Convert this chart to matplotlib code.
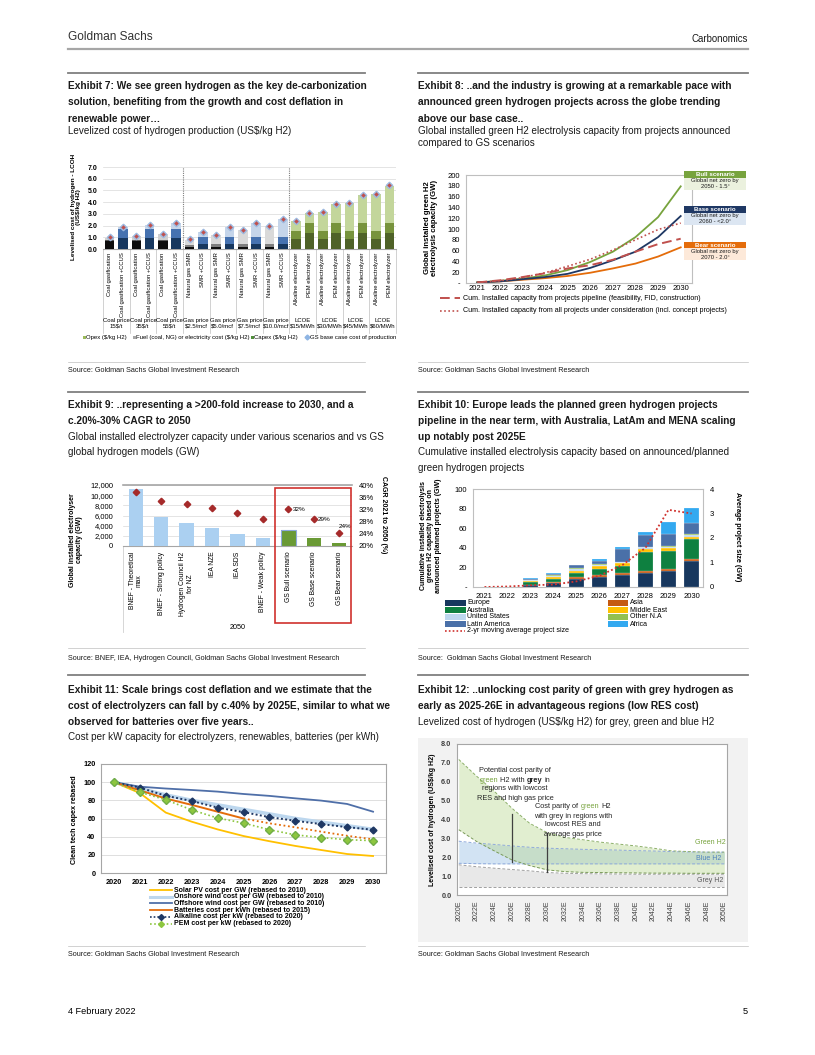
import matplotlib
matplotlib.use('Agg')
import matplotlib.pyplot as plt
from matplotlib.lines import Line2D
from matplotlib.patches import Rectangle
import matplotlib.transforms as mtransforms
import numpy as np

# ---------------- DATA ----------------
# Exhibit 7
lcoh_tech = ['Coal gasification', 'Coal gasification +CCUS'] * 3 + \
            ['Natural gas SMR', 'SMR +CCUS'] * 4 + \
            ['Alkaline electrolyzer', 'PEM electrolyzer'] * 4
lcoh_groups = ['Coal price\n15$/t', 'Coal price\n35$/t', 'Coal price\n55$/t',
               'Gas price\n$2.5/mcf', 'Gas price\n$5.0/mcf', 'Gas price\n$7.5/mcf', 'Gas price\n$10.0/mcf',
               'LCOE\n$15/MWh', 'LCOE\n$30/MWh', 'LCOE\n$45/MWh', 'LCOE\n$60/MWh']
lcoh_capex = [0.70, 0.90, 0.70, 0.90, 0.72, 0.95, 0.20, 0.40, 0.20, 0.40, 0.20, 0.40, 0.20, 0.40,
              0.85, 1.35, 0.85, 1.35, 0.85, 1.35, 0.85, 1.35]
lcoh_opex = [0.05, 0.85, 0.05, 0.85, 0.05, 0.80, 0.15, 0.65, 0.20, 0.65, 0.20, 0.65, 0.20, 0.65,
             0.70, 0.85, 0.70, 0.85, 0.70, 0.85, 0.70, 0.85]
lcoh_fuel = [0.20, 0.15, 0.35, 0.30, 0.53, 0.50, 0.45, 0.40, 0.80, 0.80, 1.20, 1.15, 1.60, 1.55,
             0.80, 0.90, 1.60, 1.65, 2.40, 2.40, 3.15, 3.20]
lcoh_base = [1.00, 1.90, 1.10, 2.05, 1.30, 2.25, 0.85, 1.45, 1.20, 1.85, 1.60, 2.20, 2.00, 2.60,
             2.35, 3.10, 3.15, 3.85, 3.90, 4.65, 4.70, 5.45]

# Exhibit 8
years8 = ['2021', '2022', '2023', '2024', '2025', '2026', '2027', '2028', '2029', '2030']
bull8 = [1, 4, 8, 14, 24, 39, 58, 85, 122, 179]
base8 = [1, 3, 7, 11, 17, 28, 42, 58, 85, 124]
bear8 = [1, 3, 6, 9, 13, 19, 27, 36, 49, 66]
pipeline8 = [1, 5, 11, 18, 27, 33, 43, 58, 72, 82]
allproj8 = [1, 4, 10, 19, 31, 44, 61, 80, 99, 111]

# Exhibit 9
cats9 = ['BNEF - Theoretical\nmax', 'BNEF - Strong policy', 'Hydrogen Council H2\nfor NZ', 'IEA NZE',
         'IEA SDS', 'BNEF - Weak policy', 'GS Bull scenario', 'GS Base scenario', 'GS Bear scenario']
cap2050 = [11300, 5800, 4500, 3500, 2400, 1500, 3200, 1500, 500]
cagr9 = [37.8, 34.7, 33.7, 32.6, 30.7, 28.9, 32.0, 28.8, 24.2]

# Exhibit 10
years10 = ['2021', '2022', '2023', '2024', '2025', '2026', '2027', '2028', '2029', '2030']
regions10 = ['Europe', 'Asia', 'Australia', 'Middle East', 'United States', 'Other N.A', 'Latin America', 'Africa']
europe10 = [0.0, 0.2, 2.0, 4.0, 8.0, 10.0, 12.5, 14.5, 16.0, 27.0]
asia10 = [0.0, 0.0, 0.5, 1.0, 2.0, 2.0, 1.5, 1.5, 2.0, 1.5]
australia10 = [0.0, 0.1, 2.5, 3.5, 4.0, 6.5, 7.0, 20.0, 19.0, 20.0]
me10 = [0.0, 0.1, 1.0, 1.5, 2.5, 2.5, 3.0, 3.0, 2.5, 3.0]
us10 = [0.0, 0.1, 1.0, 1.5, 2.0, 1.5, 1.5, 1.5, 1.5, 2.0]
othna10 = [0.0, 0.0, 0.2, 0.3, 0.5, 0.5, 0.5, 0.5, 0.5, 0.5]
latam10 = [0.0, 0.0, 1.0, 1.5, 3.0, 4.0, 12.5, 12.0, 12.5, 11.5]
africa10 = [0.0, 0.0, 0.8, 0.5, 0.8, 2.0, 2.0, 3.0, 12.5, 15.5]
projsize10 = [0.0, 0.02, 0.07, 0.10, 0.23, 0.46, 0.90, 1.60, 3.15, 3.00]

# Exhibit 11
years11 = ['2020', '2021', '2022', '2023', '2024', '2025', '2026', '2027', '2028', '2029', '2030']
solar11 = [100, 88, 66.5, 56.5, 48, 40.7, 35, 29.8, 25.3, 20.9, 18.7]
onshore11 = [100, 93, 86, 80, 75, 70, 65, 60, 56, 52, 48]
offshore11 = [100, 95, 93, 91.4, 89.6, 87, 84.9, 82.2, 79.7, 76, 67.5]
batteries11 = [100, 91, 82, 75, 67.5, 60, 54.7, 50.3, 45.5, 41, 37]
alkaline11 = [100, 94, 85, 79.3, 72, 67, 61.5, 57.5, 53.8, 50.5, 47.6]
pem11 = [100, 89, 80.6, 69.5, 60.5, 55, 47.6, 42, 39, 36.7, 35.6]

# Exhibit 12
years12 = [2020, 2022, 2024, 2026, 2028, 2030, 2032, 2034, 2036, 2038, 2040, 2042, 2044, 2046, 2048, 2050]
green_hi = [7.18, 6.30, 5.50, 4.60, 3.80, 3.30, 3.05, 2.93, 2.80, 2.70, 2.60, 2.48, 2.34, 2.30, 2.27, 2.27]
green_lo = [3.46, 2.84, 2.34, 1.86, 1.56, 1.33, 1.24, 1.20, 1.19, 1.18, 1.17, 1.16, 1.16, 1.15, 1.15, 1.15]
blue_hi = [2.85, 2.75, 2.68, 2.60, 2.53, 2.48, 2.45, 2.42, 2.40, 2.38, 2.35, 2.33, 2.30, 2.28, 2.27, 2.27]
blue_lo = [1.68, 1.66, 1.65, 1.65, 1.65, 1.65, 1.65, 1.65, 1.65, 1.65, 1.65, 1.65, 1.65, 1.65, 1.65, 1.65]
grey_hi = [1.60, 1.50, 1.42, 1.35, 1.28, 1.19, 1.15, 1.13, 1.12, 1.11, 1.10, 1.10, 1.10, 1.10, 1.10, 1.10]
grey_lo = [0.44] * 16

# ---------------- HELPERS ----------------
W, H = 815, 1055
NARROW = ['Liberation Sans', 'DejaVu Sans']
SANS = ['Liberation Sans', 'DejaVu Sans']
plt.rcParams['font.family'] = SANS

fig = plt.figure(figsize=(W / 100, H / 100), dpi=100)
fig.patch.set_facecolor('white')
renderer = fig.canvas.get_renderer()


def fx(x):
    return x / W


def fy(y):
    return 1 - y / H


def add_ax(x0, y0, x1, y1):
    return fig.add_axes([fx(x0), fy(y1), (x1 - x0) / W, (y1 - y0) / H])


def txt(x, y, s, size=6, **kw):
    kw.setdefault('va', 'center')
    kw.setdefault('ha', 'left')
    return fig.text(fx(x), fy(y), s, fontsize=size, **kw)


def rich(xc, y, parts, size):
    ts = [fig.text(0, fy(y), s, fontsize=size, va='center', ha='left', **kw) for s, kw in parts]
    a = fig.text(0, 0, 'a a', fontsize=size)
    b = fig.text(0, 0, 'aa', fontsize=size)
    gap = a.get_window_extent(renderer).width - b.get_window_extent(renderer).width
    a.remove(); b.remove()
    ws = [t.get_window_extent(renderer).width for t in ts]
    x = xc - (sum(ws) + gap * (len(ws) - 1)) / 2
    for t, w in zip(ts, ws):
        t.set_x(fx(x))
        x += w + gap


def hline(x0, x1, y, lw=1.0, color='#808080', **kw):
    fig.add_artist(Line2D([fx(x0), fx(x1)], [fy(y), fy(y)], lw=lw, color=color,
                          transform=fig.transFigure, **kw))


def rect(x0, y0, x1, y1, fc='none', ec='none', lw=0.0, z=0):
    fig.add_artist(Rectangle((fx(x0), fy(y1)), (x1 - x0) / W, (y1 - y0) / H, transform=fig.transFigure,
                             facecolor=fc, edgecolor=ec, lw=lw, zorder=z))


def frame(ax, color='#BFBFBF', lw=0.8):
    for s in ax.spines.values():
        s.set_color(color)
        s.set_linewidth(lw)


TITLE = dict(size=7.3, family=NARROW, weight='bold', color='#1a1a1a')
SUB = dict(size=7.15, family=NARROW, color='#1a1a1a')
SRC = dict(size=5.2, family=NARROW, color='#1a1a1a')

# ---------------- PAGE ----------------
txt(68, 37, 'Goldman Sachs', 8.6, family=NARROW, color='#333333')
txt(748, 39, 'Carbonomics', 6.9, family=NARROW, ha='right', color='#1a1a1a')
hline(68, 748, 49, lw=1.6, color='#A6A6A6')
txt(68, 1012, '4 February 2022', 6.6, family=NARROW)
txt(748, 1012, '5', 6.6, family=NARROW, ha='right')

for (x0, x1) in [(68, 365), (418, 748)]:
    hline(x0, x1, 73, lw=1.3, color='#7F7F7F')
    hline(x0, x1, 392, lw=1.3, color='#7F7F7F')
    hline(x0, x1, 675, lw=1.3, color='#7F7F7F')
    hline(x0, x1, 362, lw=0.5, color='#BFBFBF')
    hline(x0, x1, 648, lw=0.5, color='#BFBFBF')
    hline(x0, x1, 946, lw=0.5, color='#BFBFBF')

# titles
txt(68, 86, 'Exhibit 7: We see green hydrogen as the key de-carbonization', **TITLE)
txt(68, 102, 'solution, benefiting from the growth and cost deflation in', **TITLE)
txt(68, 119, 'renewable power\u2026', **TITLE)
txt(68, 131, 'Levelized cost of hydrogen production (US$/kg H2)', **SUB)
txt(418, 86, 'Exhibit 8: ..and the industry is growing at a remarkable pace with', **TITLE)
txt(418, 102, 'announced green hydrogen projects across the globe trending', **TITLE)
txt(418, 119, 'above our base case..', **TITLE)
txt(418, 131, 'Global installed green H2 electrolysis capacity from projects announced', **SUB)
txt(418, 143, 'compared to GS scenarios', **SUB)
txt(68, 371, 'Source: Goldman Sachs Global Investment Research', **SRC)
txt(418, 371, 'Source: Goldman Sachs Global Investment Research', **SRC)

txt(68, 405, 'Exhibit 9: ..representing a >200-fold increase to 2030, and a', **TITLE)
txt(68, 421, 'c.20%-30% CAGR to 2050', **TITLE)
txt(68, 437, 'Global installed electrolyzer capacity under various scenarios and vs GS', **SUB)
txt(68, 452, 'global hydrogen models (GW)', **SUB)
txt(418, 405, 'Exhibit 10: Europe leads the planned green hydrogen projects', **TITLE)
txt(418, 421, 'pipeline in the near term, with Australia, LatAm and MENA scaling', **TITLE)
txt(418, 437, 'up notably post 2025E', **TITLE)
txt(418, 452, 'Cumulative installed electrolysis capacity based on announced/planned', **SUB)
txt(418, 468, 'green hydrogen projects', **SUB)
txt(68, 658, 'Source: BNEF, IEA, Hydrogen Council, Goldman Sachs Global Investment Research', **SRC)
txt(418, 658, 'Source:  Goldman Sachs Global Investment Research', **SRC)

txt(68, 690, 'Exhibit 11: Scale brings cost deflation and we estimate that the', **TITLE)
txt(68, 706, 'cost of electrolyzers can fall by c.40% by 2025E, similar to what we', **TITLE)
txt(68, 722, 'observed for batteries over five years..', **TITLE)
txt(68, 737, 'Cost per kW capacity for electrolyzers, renewables, batteries (per kWh)', **SUB)
txt(418, 690, 'Exhibit 12: ..unlocking cost parity of green with grey hydrogen as', **TITLE)
txt(418, 706, 'early as 2025-26E in advantageous regions (low RES cost)', **TITLE)
txt(418, 722, 'Levelized cost of hydrogen (US$/kg H2) for grey, green and blue H2', **SUB)
txt(68, 955, 'Source: Goldman Sachs Global Investment Research', **SRC)
txt(418, 955, 'Source: Goldman Sachs Global Investment Research', **SRC)

# ---------------- EXHIBIT 7 ----------------
ax7 = add_ax(103, 167, 396, 249)
n7 = len(lcoh_tech)
x7 = np.arange(n7)
cb, cm, ct = [], [], []
for i in range(n7):
    if i < 6:
        if i % 2 == 0:
            cb.append('#0D0D0D'); cm.append('#595959'); ct.append('#D0D0D0')
        else:
            cb.append('#17375E'); cm.append('#4672B0'); ct.append('#C5D5EA')
    elif i < 14:
        if i % 2 == 0:
            cb.append('#0D0D0D'); cm.append('#7F7F7F'); ct.append('#D9D9D9')
        else:
            cb.append('#17375E'); cm.append('#4672B0'); ct.append('#C5D5EA')
    else:
        cb.append('#4F6228'); cm.append('#77933C'); ct.append('#C3D69B')
capex = np.array(lcoh_capex)
opex = np.array(lcoh_opex)
ax7.bar(x7, capex, width=0.72, color=cb, zorder=3)
ax7.bar(x7, opex, width=0.72, bottom=capex, color=cm, zorder=3)
ax7.bar(x7, lcoh_fuel, width=0.72, bottom=capex + opex, color=ct, zorder=3)
ax7.plot(x7, lcoh_base, 'D', ms=3.3, mfc='#C0504D', mec='#9DB9E0', mew=1.0, zorder=5, ls='none')
ax7.set_xlim(-0.5, n7 - 0.5)
ax7.set_ylim(0, 7)
ax7.set_yticks(np.arange(0, 7.01, 1.0))
ax7.set_yticklabels(['%.1f' % v for v in np.arange(0, 7.01, 1.0)], fontsize=5, weight='bold')
ax7.tick_params(axis='y', length=0, pad=4)
ax7.set_xticks([])
ax7.grid(axis='y', color='#D9D9D9', lw=0.5)
ax7.set_axisbelow(True)
for s in ['top', 'right', 'left']:
    ax7.spines[s].set_visible(False)
ax7.spines['bottom'].set_color('#A6A6A6')
ax7.axvline(5.5, color='#7F7F7F', ls=(0, (1, 1)), lw=0.8, zorder=4)
ax7.axvline(13.5, color='#7F7F7F', ls=(0, (1, 1)), lw=0.8, zorder=4)
tr7 = mtransforms.blended_transform_factory(ax7.transData, ax7.transAxes)
for i, lab in enumerate(lcoh_tech):
    ax7.text(i, -0.04, lab, transform=tr7, rotation=90, ha='center', va='top', fontsize=4.2, clip_on=False)
for g, lab in enumerate(lcoh_groups):
    ax7.text(2 * g + 0.5, -0.91, lab, transform=tr7, ha='center', va='center', fontsize=4.3,
             linespacing=1.1, clip_on=False)
for g in range(len(lcoh_groups) + 1):
    ax7.plot([2 * g - 0.5, 2 * g - 0.5], [0, -1.02], transform=tr7, color='#BFBFBF', lw=0.5, clip_on=False)
txt(76, 207, 'Levelised cost of hydrogen - LCOH\n(US$/kg H2)', 4.6, rotation=90, ha='center', weight='bold',
    linespacing=1.0)
leg7 = [('Opex ($/kg H2)', '#9BBB59', 83), ('Fuel (coal, NG) or electricity cost ($/kg H2)', '#A6A6A6', 133),
        ('Capex ($/kg H2)', '#4F8F3A', 251)]
for lab, c, xx in leg7:
    rect(xx, 336, xx + 3, 339, fc=c)
    txt(xx + 3.5, 337.5, lab, 4.3)
fig.add_artist(Line2D([fx(307)], [fy(337.5)], marker='D', ms=2.5, mfc='#8EB4E3', mec='#8EB4E3',
                      transform=fig.transFigure, ls='none'))
txt(310, 337.5, 'GS base case cost of production', 4.3)

# ---------------- EXHIBIT 8 ----------------
ax8 = add_ax(466, 175, 692, 283)
x8 = np.arange(len(years8))
ax8.plot(x8, bear8, color='#E46C0A', lw=1.3)
ax8.plot(x8, bull8, color='#77A33D', lw=1.3)
ax8.plot(x8, base8, color='#1F3864', lw=1.3)
ax8.plot(x8, pipeline8, color='#C0504D', lw=1.4, ls=(0, (5, 2.5)))
ax8.plot(x8, allproj8, color='#C0504D', lw=1.2, ls=(0, (1, 1.5)))
ax8.set_xlim(-0.5, len(years8) - 0.5)
ax8.set_ylim(0, 200)
ax8.set_xticks(x8)
ax8.set_xticklabels(years8, fontsize=5.5)
ax8.set_yticks(np.arange(0, 201, 20))
ax8.set_yticklabels(['-'] + [str(v) for v in range(20, 201, 20)], fontsize=5.5)
ax8.tick_params(axis='y', length=0, pad=4)
ax8.tick_params(axis='x', length=0, pad=1.5)
frame(ax8)
txt(431, 228, 'Global installed green H2\nelectrolysis capacity (GW)', 5.6, rotation=90, ha='center',
    weight='bold', linespacing=1.1)
boxes8 = [(171, '#77A33D', '#EBF1DE', 'Bull scenario', 'Global net zero by\n2050 - 1.5\u00b0'),
          (206, '#1F3864', '#DCE6F2', 'Base scenario', 'Global net zero by\n2060 - <2.0\u00b0'),
          (242, '#E46C0A', '#FDE9D9', 'Bear scenario', 'Global net zero by\n2070 - 2.0\u00b0')]
for y0, hc, bc, head, body in boxes8:
    rect(684, y0, 746, y0 + 6.5, fc=hc, z=5)
    rect(684, y0 + 6.5, 746, y0 + 18.5, fc=bc, z=5)
    txt(715, y0 + 3.3, head, 4.4, ha='center', color='white', weight='bold', zorder=6)
    txt(715, y0 + 12.5, body, 4.2, ha='center', color='#1a1a1a', linespacing=1.05, zorder=6)
hline(440, 460, 298, lw=1.4, color='#C0504D', ls=(0, (5, 2.5)))
txt(463, 298, 'Cum. Installed capacity from projects pipeline (feasibility, FID, construction)', 5.1)
hline(440, 460, 310.5, lw=1.2, color='#C0504D', ls=(0, (1, 1.5)))
txt(463, 310.5, 'Cum. Installed capacity from all projects under consideration (incl. concept projects)', 5.1)

# ---------------- EXHIBIT 9 ----------------
ax9 = add_ax(123, 485, 352, 546)
x9 = np.arange(len(cats9))
col9 = ['#ABD0F1'] * 6 + ['#6A9A35'] * 3
ax9.bar(x9, cap2050, width=0.56, color=col9, zorder=3)
ax9.bar([6], [cap2050[6]], width=0.56, color='none', edgecolor='#8EA9DB', lw=0.8, zorder=4)
ax9.set_xlim(-0.5, len(cats9) - 0.5)
ax9.set_ylim(0, 12000)
ax9.set_yticks(np.arange(0, 12001, 2000))
ax9.set_yticklabels(['0'] + ['{:,}'.format(v) for v in range(2000, 12001, 2000)], fontsize=5.5)
ax9.tick_params(axis='y', length=0, pad=7)
ax9.set_xticks([])
ax9.grid(axis='y', color='#D9D9D9', lw=0.5)
ax9.set_axisbelow(True)
ax9.spines['top'].set_color('#A6A6A6')
ax9.spines['top'].set_linewidth(1.2)
ax9.spines['bottom'].set_color('#A6A6A6')
ax9.spines['left'].set_visible(False)
ax9.spines['right'].set_visible(False)
ax9r = ax9.twinx()
ax9r.plot(x9, cagr9, 'D', color='#A52A2A', ms=3.3, ls='none', zorder=5)
ax9r.set_ylim(20, 40)
ax9r.set_yticks(np.arange(20, 41, 4))
ax9r.set_yticklabels(['%d%%' % v for v in range(20, 41, 4)], fontsize=5.5)
ax9r.tick_params(length=0, pad=5)
for s in ax9r.spines.values():
    s.set_visible(False)
ax9r.text(6.17, cagr9[6], '%d%%' % round(cagr9[6]), fontsize=4.6, va='center', ha='left')
ax9r.text(7.17, cagr9[7], '%d%%' % round(cagr9[7]), fontsize=4.6, va='center', ha='left')
ax9r.text(8.24, 26.3, '%d%%' % round(cagr9[8]), fontsize=4.6, va='center', ha='center')
tr9 = mtransforms.blended_transform_factory(ax9.transData, ax9.transAxes)
for i, lab in enumerate(cats9):
    ax9.text(i, -0.09, lab, transform=tr9, rotation=90, ha='center', va='top', fontsize=4.9,
             linespacing=1.05, clip_on=False)
ax9.plot([-0.5, -0.5], [0, -1.41], transform=tr9, color='#D0D0D0', lw=0.6, clip_on=False)
ax9.text(4, -1.34, '2050', transform=tr9, ha='center', va='center', fontsize=5.2, clip_on=False)
rect(275, 488, 351, 623, ec='#D0312D', lw=1.2, z=6)
txt(76, 540, 'Global installed electrolyser\ncapacity (GW)', 5.0, rotation=90, ha='center', weight='bold',
    linespacing=1.1)
txt(383, 515, 'CAGR 2021 to 2050 (%)', 5.0, rotation=270, ha='center', weight='bold')

# ---------------- EXHIBIT 10 ----------------
ax10 = add_ax(473, 489, 703, 587)
x10 = np.arange(len(years10))
stack10 = [europe10, asia10, australia10, me10, us10, othna10, latam10, africa10]
col10 = ['#17375E', '#C55A11', '#0E8040', '#FFC000', '#BDD7EE', '#92C050', '#4A70A8', '#33A9F0']
bottom = np.zeros(len(years10))
for vals, c in zip(stack10, col10):
    ax10.bar(x10, vals, width=0.68, bottom=bottom, color=c, zorder=3, edgecolor='white', lw=0.15)
    bottom = bottom + np.array(vals)
ax10.set_xlim(-0.5, len(years10) - 0.5)
ax10.set_ylim(0, 100)
ax10.set_xticks(x10)
ax10.set_xticklabels(years10, fontsize=5.5)
ax10.set_yticks(np.arange(0, 101, 20))
ax10.set_yticklabels(['-', '20', '40', '60', '80', '100'], fontsize=5.5)
ax10.tick_params(length=0, pad=4)
frame(ax10)
ax10r = ax10.twinx()
ax10r.plot(x10, projsize10, color='#D0312D', lw=1.3, ls=(0, (1, 1.3)), zorder=6)
ax10r.set_ylim(0, 4)
ax10r.set_yticks(range(0, 5))
ax10r.set_yticklabels([str(v) for v in range(0, 5)], fontsize=5.5)
ax10r.tick_params(length=0, pad=5)
for s in ax10r.spines.values():
    s.set_visible(False)
leg10_left = [0, 2, 4, 6]
leg10_right = [1, 3, 5, 7]
rows10 = [603, 610, 617, 624]
for r, k in zip(rows10, leg10_left):
    rect(445, r - 2.7, 466, r + 2.7, fc=col10[k])
    txt(467, r, regions10[k], 5.0)
for r, k in zip(rows10, leg10_right):
    rect(608, r - 2.7, 628, r + 2.7, fc=col10[k])
    txt(630, r, regions10[k], 5.0)
hline(445, 465, 631, lw=1.2, color='#D0312D', ls=(0, (1, 1.3)))
txt(467, 631, '2-yr moving average project size', 5.0)
txt(431, 536, 'Cumulative installed electrolysis\ngreen H2 capacity based on\nannounced planned projects (GW)', 5.0,
    rotation=90, ha='center', weight='bold', linespacing=1.05)
txt(737, 537, 'Average project size (GW)', 5.2, rotation=270, ha='center', weight='bold')

# ---------------- EXHIBIT 11 ----------------
ax11 = add_ax(101, 764, 386, 873)
x11 = np.arange(len(years11))
ax11.plot(x11, solar11, color='#FFC000', lw=1.3, zorder=3)
ax11.plot(x11, onshore11, color='#BDD7EE', lw=2.6, zorder=3)
ax11.plot(x11, offshore11, color='#4F6FA8', lw=1.3, zorder=3)
ax11.plot(x11[:6], batteries11[:6], color='#E46C0A', lw=1.4, zorder=3)
ax11.plot(x11[5:], batteries11[5:], color='#E46C0A', lw=1.3, ls=(0, (1, 1.5)), zorder=3)
ax11.plot(x11, alkaline11, color='#1F3864', lw=1.4, ls=(0, (1, 1.2)), marker='D', ms=3.5, zorder=4)
ax11.plot(x11, pem11, color='#8DC63F', lw=1.2, ls=(0, (1, 1.5)), marker='D', ms=3.8,
          mfc='#8DC63F', mec='#70AD47', zorder=4)
ax11.set_xlim(-0.5, len(years11) - 0.5)
ax11.set_ylim(0, 120)
ax11.set_xticks(x11)
ax11.set_xticklabels(years11, fontsize=5.3, weight='bold')
ax11.set_yticks(np.arange(0, 121, 20))
ax11.set_yticklabels([str(v) for v in range(0, 121, 20)], fontsize=5.3, weight='bold')
ax11.tick_params(length=0, pad=4)
ax11.grid(axis='y', color='#D9D9D9', lw=0.6)
ax11.set_axisbelow(True)
frame(ax11, '#A6A6A6', 0.8)
leg11 = [('Solar PV cost per GW (rebased to 2010)', dict(color='#FFC000', lw=1.3)),
         ('Onshore wind cost per GW (rebased to 2010)', dict(color='#BDD7EE', lw=2.2)),
         ('Offshore wind cost per GW (rebased to 2010)', dict(color='#4F6FA8', lw=1.3)),
         ('Batteries cost per kWh (rebased to 2015)', dict(color='#E46C0A', lw=1.3)),
         ('Alkaline cost per kW (rebased to 2020)', dict(color='#1F3864', lw=1.2, ls=(0, (1, 1.2)))),
         ('PEM cost per kW (rebased to 2020)', dict(color='#8DC63F', lw=1.2, ls=(0, (1, 1.5))))]
rows11 = [890, 896.7, 903.4, 910.1, 916.8, 923.5]
for (lab, st), r in zip(leg11, rows11):
    hline(150, 172, r, **st)
    txt(174, r, lab, 5.0, weight='bold')
fig.add_artist(Line2D([fx(161)], [fy(rows11[4])], marker='D', ms=3, color='#1F3864',
                      transform=fig.transFigure, ls='none'))
fig.add_artist(Line2D([fx(161)], [fy(rows11[5])], marker='D', ms=3, color='#8DC63F',
                      transform=fig.transFigure, ls='none'))
txt(75, 820, 'Clean tech capex rebased', 5.2, rotation=90, ha='center', weight='bold')

# ---------------- EXHIBIT 12 ----------------
rect(418, 738, 748, 942, fc='#F2F2F2', z=-1)
ax12 = add_ax(457, 744, 727, 895)
yr = np.array(years12)
ax12.fill_between(yr, grey_lo, grey_hi, color='#BFBFBF', alpha=0.35, lw=0, zorder=2)
ax12.fill_between(yr, blue_lo, blue_hi, color='#9DC3E6', alpha=0.45, lw=0, zorder=2)
ax12.fill_between(yr, green_lo, green_hi, color='#B5D58A', alpha=0.40, lw=0, zorder=2)
for arr, c in [(grey_lo, '#A0A0A0'), (grey_hi, '#A0A0A0'), (blue_lo, '#8EA9DB'), (blue_hi, '#8EA9DB'),
               (green_lo, '#7A9A5A'), (green_hi, '#8DB06A')]:
    ax12.plot(yr, arr, color=c, lw=0.7, ls=(0, (3, 2)), zorder=3)
ax12.set_xlim(2019.8, 2050.3)
ax12.set_ylim(0, 8)
ax12.set_xticks(years12)
ax12.set_xticklabels(['%dE' % y for y in years12], rotation=90, fontsize=5.0, color='#404040')
ax12.set_yticks(np.arange(0, 8.01, 1.0))
ax12.set_yticklabels(['%.1f' % v for v in np.arange(0, 8.01, 1.0)], fontsize=5.3, color='#404040',
                     weight='bold')
ax12.tick_params(length=0, pad=4)
frame(ax12, '#A6A6A6', 0.8)
ax12.plot([2026, 2026], [1.75, 4.3], color='#404040', lw=0.9, zorder=5)
ax12.plot([2030, 2030], [1.2, 3.3], color='#404040', lw=0.9, zorder=5)
DK = dict(color='#262626')
GR = dict(color='#77A33D')
txt(515, 771, 'Potential cost parity of', 5.3, ha='center', **DK)
rich(515, 780, [('green', GR), ('H2 with', DK), ('grey', dict(color='#262626', weight='bold')), ('in', DK)], 5.3)
txt(515, 789, 'regions with lowcost', 5.3, ha='center', **DK)
txt(515, 798, 'RES and high gas price', 5.3, ha='center', **DK)
rich(573, 807, [('Cost parity of', DK), ('green', GR), ('H2', DK)], 5.3)
txt(573, 816, 'with grey in regions with', 5.3, ha='center', **DK)
txt(573, 825, 'lowcost RES and', 5.3, ha='center', **DK)
txt(573, 834, 'average gas price', 5.3, ha='center', **DK)
txt(710, 843, 'Green H2', 5.0, ha='center', color='#77A33D')
txt(709, 858, 'Blue H2', 5.0, ha='center', color='#4F81BD')
txt(710, 880, 'Grey H2', 5.0, ha='center', color='#595959')
txt(432, 820, 'Levelised cost of hydrogen (US$/kg H2)', 5.0, rotation=90, ha='center', weight='bold')

fig.savefig('out.png', dpi=100, facecolor='white')
